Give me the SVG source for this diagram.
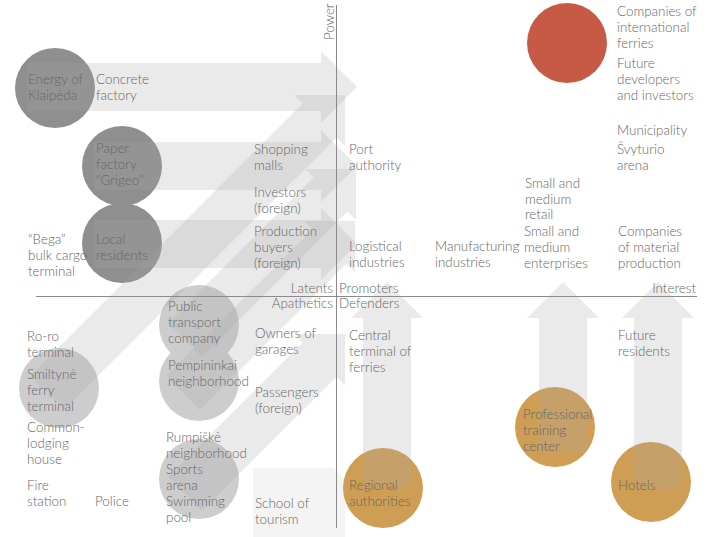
<svg xmlns="http://www.w3.org/2000/svg" width="715" height="537" viewBox="0 0 715 537">
<style>
text{font-family:Lato,"Liberation Sans",sans-serif;font-weight:300;font-size:13.4px;fill:#666}
.dark{fill:#8f8f8f}
.light{fill:#cdcdcd}
.org{fill:#cf9e55}
.red{fill:#c65a45}
.arr{fill:#a8a8a8;fill-opacity:0.24}
.faint{fill:#a8a8a8;fill-opacity:0.12}
.axis{stroke:#8a8a8a;stroke-width:1;fill:none}
.r{text-anchor:end}
</style>
<rect width="715" height="537" fill="#fff"/>
<g id="circles">
<circle id="c-energy" class="dark" cx="55" cy="88" r="40"/>
<circle id="c-grigeo" class="dark" cx="122" cy="166" r="40"/>
<circle id="c-local" class="dark" cx="122" cy="243" r="40"/>
<circle id="c-public" class="light" cx="199" cy="325" r="40"/>
<circle id="c-pemp" class="light" cx="199" cy="381" r="40"/>
<circle id="c-rump" class="light" cx="199" cy="479" r="40"/>
<circle id="c-smilt" class="light" cx="59" cy="388" r="40"/>
<circle id="c-ferries" class="red" cx="567" cy="43" r="40"/>
<circle id="c-regional" class="org" cx="383" cy="488" r="40"/>
<circle id="c-training" class="org" cx="555" cy="427" r="40"/>
<circle id="c-hotels" class="org" cx="651" cy="482" r="40"/>
</g>
<g id="connectors">
<polygon class="arr" points="27,63 321,63 321,51 357,87 321,123 321,111 27,111"/>
<polygon class="arr" points="94,142 321,142 321,130 357,166 321,202 321,190 94,190"/>
<polygon class="arr" points="94,220 321,220 321,208 357,244 321,280 321,268 94,268"/>
<polygon class="arr" points="30.03,376.03 302.57,103.49 294.08,95 345,95 345,145.92 336.51,137.43 63.97,409.97"/>
<polygon class="arr" points="168.03,323.03 313.57,177.49 305.08,169 356,169 356,219.92 347.51,211.43 201.97,356.97"/>
<polygon class="arr" points="166.03,376.03 312.57,229.49 304.08,221 355,221 355,271.92 346.51,263.43 199.97,409.97"/>
<polygon class="arr" points="168.03,477.03 302.57,342.49 294.08,334 345,334 345,384.92 336.51,376.43 201.97,510.97"/>
<polygon class="faint" points="253,468 333,468 345,480 345,537 253,537"/>
<polygon class="arr" points="363,487 363,318 351,318 387,282 423,318 411,318 411,487"/>
<polygon class="arr" points="539,452 539,318 527,318 563,282 599,318 587,318 587,452"/>
<polygon class="arr" points="634,490 634,318 622,318 658,282 694,318 682,318 682,490"/>
</g>
<g id="axes">
<line class="axis" x1="336.5" y1="5" x2="336.5" y2="528"/>
<line class="axis" x1="36" y1="296.5" x2="697" y2="296.5"/>
<text transform="translate(334,40) rotate(-90)">Power</text>
<text class="r" x="333" y="293">Latents</text>
<text x="339" y="293">Promoters</text>
<text class="r" x="333" y="308">Apathetics</text>
<text x="339" y="308">Defenders</text>
<text class="r" x="696" y="293">Interest</text>
</g>
<g id="n-energy"><text x="28" y="84">Energy of<tspan x="28" y="100">Klaipėda</tspan></text></g>
<g id="n-concrete"><text x="96" y="84">Concrete<tspan x="96" y="100">factory</tspan></text></g>
<g id="n-grigeo"><text x="96" y="153">Paper<tspan x="96" y="169">factory</tspan><tspan x="96" y="185">“Grigeo”</tspan></text></g>
<g id="n-shopping"><text x="254" y="154">Shopping<tspan x="254" y="170">malls</tspan></text></g>
<g id="n-port"><text x="349" y="154">Port<tspan x="349" y="170">authority</tspan></text></g>
<g id="n-investors"><text x="254" y="197">Investors<tspan x="254" y="213">(foreign)</tspan></text></g>
<g id="n-production"><text x="254" y="236">Production<tspan x="254" y="252">buyers</tspan><tspan x="254" y="268">(foreign)</tspan></text></g>
<g id="n-bega"><text x="28" y="244">“Bega”<tspan x="28" y="260">bulk cargo</tspan><tspan x="28" y="276">terminal</tspan></text></g>
<g id="n-local"><text x="96" y="244">Local<tspan x="96" y="260">residents</tspan></text></g>
<g id="n-logistical"><text x="349" y="251">Logistical<tspan x="349" y="267">industries</tspan></text></g>
<g id="n-manufacturing"><text x="435" y="251">Manufacturing<tspan x="435" y="267">industries</tspan></text></g>
<g id="n-retail"><text x="525" y="188">Small and<tspan x="525" y="204">medium</tspan><tspan x="525" y="219">retail</tspan></text></g>
<g id="n-sme"><text x="524" y="236">Small and<tspan x="524" y="252">medium</tspan><tspan x="524" y="268">enterprises</tspan></text></g>
<g id="n-material"><text x="618" y="236">Companies<tspan x="618" y="252">of material</tspan><tspan x="618" y="268">production</tspan></text></g>
<g id="n-ferries"><text x="617" y="16">Companies of<tspan x="617" y="32">international</tspan><tspan x="617" y="48">ferries</tspan></text></g>
<g id="n-developers"><text x="617" y="68">Future<tspan x="617" y="84">developers</tspan><tspan x="617" y="100">and investors</tspan></text></g>
<g id="n-municipality"><text x="617" y="135">Municipality</text></g>
<g id="n-arena"><text x="617" y="154">Švyturio<tspan x="617" y="170">arena</tspan></text></g>
<g id="n-public"><text x="168" y="311">Public<tspan x="168" y="327">transport</tspan><tspan x="168" y="343">company</tspan></text></g>
<g id="n-owners"><text x="255" y="338">Owners of<tspan x="255" y="354">garages</tspan></text></g>
<g id="n-roro"><text x="27" y="341">Ro-ro<tspan x="27" y="357">terminal</tspan></text></g>
<g id="n-smiltyne"><text x="27" y="379">Smiltynė<tspan x="27" y="395">ferry</tspan><tspan x="27" y="411">terminal</tspan></text></g>
<g id="n-lodging"><text x="27" y="432">Common-<tspan x="27" y="448">lodging</tspan><tspan x="27" y="464">house</tspan></text></g>
<g id="n-fire"><text x="27" y="490">Fire<tspan x="27" y="506">station</tspan></text></g>
<g id="n-police"><text x="95" y="506">Police</text></g>
<g id="n-pemp"><text x="168" y="370">Pempininkai<tspan x="168" y="386">neighborhood</tspan></text></g>
<g id="n-passengers"><text x="255" y="397">Passengers<tspan x="255" y="413">(foreign)</tspan></text></g>
<g id="n-rump"><text x="166" y="442">Rumpiškė<tspan x="166" y="458">neighborhood</tspan><tspan x="166" y="474">Sports</tspan><tspan x="166" y="490">arena</tspan><tspan x="166" y="506">Swimming</tspan><tspan x="166" y="522">pool</tspan></text></g>
<g id="n-school"><text x="255" y="508">School of<tspan x="255" y="524">tourism</tspan></text></g>
<g id="n-central"><text x="349" y="340">Central<tspan x="349" y="356">terminal of</tspan><tspan x="349" y="372">ferries</tspan></text></g>
<g id="n-regional"><text x="349" y="490">Regional<tspan x="349" y="506">authorities</tspan></text></g>
<g id="n-training"><text x="523" y="419">Professional<tspan x="523" y="435">training</tspan><tspan x="523" y="451">center</tspan></text></g>
<g id="n-future"><text x="618" y="340">Future<tspan x="618" y="356">residents</tspan></text></g>
<g id="n-hotels"><text x="618" y="490">Hotels</text></g>
</svg>
